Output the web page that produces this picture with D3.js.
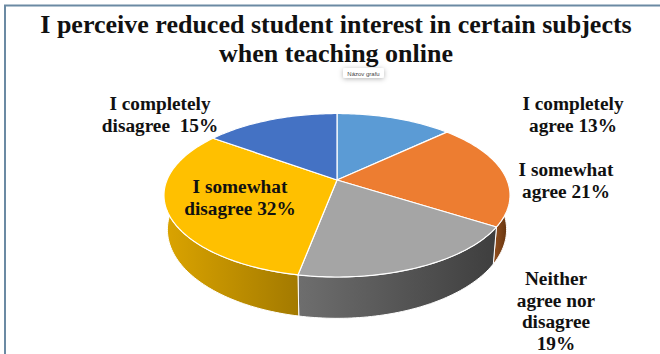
<!DOCTYPE html>
<html><head><meta charset="utf-8">
<script src="https://cdn.jsdelivr.net/npm/d3@7"></script>
<style>html,body{margin:0;padding:0;background:#fff;overflow:hidden}svg{display:block}
text{font-family:"Liberation Serif",serif;font-weight:bold;fill:#111}</style>
</head><body><svg id="c" width="660" height="354"></svg>
<script>
const categories=["I completely agree","I somewhat agree","Neither agree nor disagree","I somewhat disagree","I completely disagree"];
const values=[13,21,19,32,15];
const topColors=["#5b9bd5","#ed7d31","#a5a5a5","#ffc000","#4472c4"];
const wallLight=["#3a6a96","#8a4a1c","#6e6e6e","#dba400","#2c4f88"];
const wallDark=["#2c5478","#5c2f0c","#3e3e3e","#a37a00","#223f6c"];
const titleLines=["I perceive reduced student interest in certain subjects","when teaching online"];
const labels=[
 {lines:["I completely","agree 13%"],x:573,y:110,size:19.3},
 {lines:["I somewhat","agree 21%"],x:566,y:176,size:19.3},
 {lines:["Neither","agree nor","disagree","19%"],x:556,y:285,size:19.3},
 {lines:["I somewhat","disagree 32%"],x:240,y:193,size:19.3},
 {lines:["I completely","disagree  15%"],x:160,y:110,size:19.3}
];
const svg=d3.select("#c");
const cx=337,cy=180,persp=0.1866,fx=170,fy=78.9;
function proj(a){const x=Math.sin(a),y=-Math.cos(a),w=1-persp*y;return [cx+fx*x/w,cy+fy*y/w];}
function low(p){const d=37+0.085*(p[1]-226);return [cx+(p[0]-cx)*0.98,p[1]+d];}
const line=d3.line();
const arcs=d3.pie().sort(null)(values);
const defs=svg.append("defs");
const flt=defs.append("filter").attr("id","sh").attr("x","-40%").attr("y","-60%").attr("width","180%").attr("height","240%");
flt.append("feDropShadow").attr("dx",0).attr("dy",1).attr("stdDeviation",2.5).attr("flood-color","#000").attr("flood-opacity",.3);

svg.append("path").attr("d","M5,354V5.5H660").attr("fill","none").attr("stroke","#6b8aa3").attr("stroke-width",2);

function samples(a0,a1){const n=Math.max(2,Math.ceil((a1-a0)/0.02));return d3.range(n+1).map(i=>a0+(a1-a0)*i/n);}
arcs.forEach((d,i)=>{
  const s=samples(d.startAngle,d.endAngle).filter(a=>a>Math.PI*0.5&&a<Math.PI*1.56);
  if(s.length<2)return;
  const t=s.map(proj),b=s.map(a=>low(proj(a)));
  const x0=d3.min(t,p=>p[0]),x1=d3.max(t,p=>p[0]);
  const id="w"+i;
  const g=defs.append("linearGradient").attr("id",id).attr("gradientUnits","userSpaceOnUse").attr("x1",x0).attr("x2",x1).attr("y1",0).attr("y2",0);
  g.append("stop").attr("offset",0).attr("stop-color",wallLight[i]);
  g.append("stop").attr("offset",1).attr("stop-color",wallDark[i]);
  svg.append("path").attr("d",line(t.concat(b.reverse()))+"Z").attr("fill",`url(#${id})`).attr("stroke","#fff").attr("stroke-width",1).attr("stroke-linejoin","round");
});
arcs.forEach((d,i)=>{
  const pts=[[cx,cy]].concat(samples(d.startAngle,d.endAngle).map(proj));
  svg.append("path").attr("d",line(pts)+"Z").attr("fill",topColors[i]).attr("stroke","#fff").attr("stroke-width",1.2).attr("stroke-linejoin","round");
});
svg.selectAll("text.t").data(titleLines).join("text").attr("class","t")
  .attr("x",336).attr("y",(d,i)=>33+i*28.5).attr("text-anchor","middle").attr("font-size",26).text(d=>d);
labels.forEach((l,i)=>{
  const t=svg.append("text").attr("text-anchor","middle").attr("font-size",l.size).style("white-space","pre");
  l.lines.forEach((s,j)=>t.append("tspan").attr("x",l.x).attr("y",l.y+j*21.7).text(s));
});
const tip=svg.append("g");
tip.append("rect").attr("x",343).attr("y",68).attr("width",41).attr("height",10).attr("rx",2).attr("fill","#fff").attr("filter","url(#sh)");
tip.append("text").attr("x",363.5).attr("y",75.5).attr("text-anchor","middle").attr("font-size",6).style("font-family","'Liberation Sans',sans-serif").style("font-weight","normal").style("fill","#444").text("Názov grafu");
</script></body></html>
